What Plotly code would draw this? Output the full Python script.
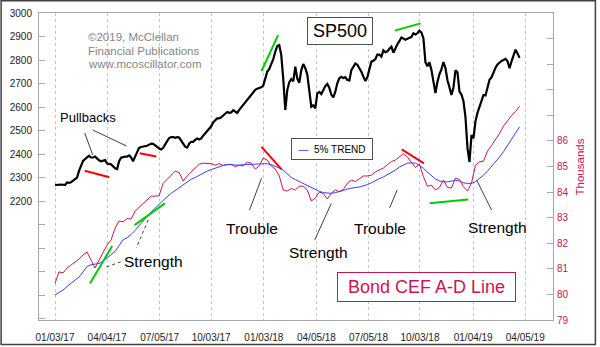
import pandas as pd
import plotly.graph_objects as go

# ---------------- data (readings from the reference) ----------------
start_date = "2017-01-03"

# S&P 500, read twice a week (every 3.5 days)
sp500 = [2268, 2269, 2271, 2270, 2269, 2268, 2279, 2277, 2280, 2288,
         2292, 2300, 2328, 2350, 2371, 2378, 2384, 2393, 2385, 2385,
         2389, 2380, 2373, 2369, 2370, 2374, 2359, 2357, 2356, 2348,
         2339, 2336, 2369, 2384, 2388, 2389, 2389, 2394, 2385, 2369,
         2389, 2409, 2426, 2430, 2431, 2431, 2435, 2440, 2444, 2443,
         2438, 2430, 2423, 2419, 2426, 2438, 2455, 2468, 2472, 2472,
         2469, 2472, 2470, 2457, 2444, 2431, 2427, 2444, 2452, 2452,
         2460, 2466, 2462, 2466, 2478, 2488, 2496, 2505, 2518, 2534,
         2545, 2552, 2552, 2556, 2564, 2573, 2579, 2575, 2577, 2586,
         2580, 2575, 2588, 2599, 2607, 2621, 2632, 2641, 2651, 2663,
         2673, 2678, 2681, 2684, 2691, 2726, 2750, 2762, 2782, 2804,
         2835, 2859, 2863, 2821, 2719, 2587, 2672, 2706, 2719, 2709,
         2772, 2721, 2703, 2757, 2783, 2765, 2738, 2664, 2601, 2607,
         2594, 2658, 2664, 2655, 2672, 2689, 2698, 2681, 2653, 2641,
         2665, 2702, 2722, 2728, 2723, 2727, 2715, 2713, 2757, 2774,
         2785, 2780, 2766, 2750, 2729, 2711, 2726, 2760, 2793, 2797,
         2804, 2823, 2823, 2814, 2841, 2833, 2837, 2848, 2857, 2831,
         2851, 2867, 2880, 2896, 2892, 2886, 2890, 2894, 2898, 2914,
         2909, 2914, 2925, 2917, 2892, 2791, 2773, 2790, 2757, 2708,
         2659, 2707, 2740, 2760, 2791, 2766, 2714, 2684, 2651, 2683,
         2756, 2748, 2665, 2653, 2625, 2557, 2426, 2366, 2480, 2467,
         2540, 2575, 2604, 2626, 2651, 2649, 2678, 2716, 2726, 2750,
         2767, 2781, 2790, 2796, 2800, 2805, 2795, 2765, 2794, 2824,
         2844, 2828, 2809]

# Bond CEF A-D line and its 5% trend, read weekly (thousands)
ad_line = [80.43, 80.88, 80.84, 81.03, 81.15, 81.27, 81.38, 81.54, 81.66, 81.34,
           81.03, 81.34, 81.66, 81.93, 82.13, 82.59, 82.87, 82.84, 82.96, 82.95,
           83.26, 83.41, 83.56, 83.71, 83.84, 83.84, 83.86, 84.34, 84.51, 84.68,
           84.82, 84.76, 84.43, 84.63, 84.78, 84.94, 85.09, 85.13, 85.13, 85.11,
           85.05, 85.11, 85.04, 85.07, 85.09, 84.99, 85.05, 85.02, 85.17, 85.13,
           84.90, 85.02, 85.33, 85.25, 85.02, 84.90, 84.63, 84.08, 84.04, 84.14,
           84.08, 84.23, 84.23, 84.08, 83.65, 83.77, 84.00, 83.95, 83.73, 83.96,
           84.08, 84.02, 84.10, 84.35, 84.47, 84.41, 84.53, 84.63, 84.63, 84.66,
           84.79, 84.85, 84.94, 85.07, 85.19, 85.25, 85.37, 85.50, 85.37, 85.17,
           84.96, 85.09, 84.60, 84.23, 84.27, 84.08, 84.18, 84.47, 84.18, 84.16,
           84.55, 84.49, 84.21, 84.04, 84.35, 85.05, 85.18, 85.21, 85.60, 85.82,
           86.05, 86.29, 86.58, 86.81, 86.99, 87.14, 87.36]

trend_5pct = [79.98, 80.07, 80.17, 80.31, 80.43, 80.54, 80.68, 80.88, 81.09, 81.16,
              81.19, 81.21, 81.30, 81.42, 81.56, 81.68, 81.91, 82.13, 82.22, 82.34,
              82.50, 82.69, 82.91, 83.06, 83.22, 83.38, 83.53, 83.69, 83.82, 83.95,
              84.06, 84.20, 84.31, 84.41, 84.50, 84.57, 84.65, 84.76, 84.82, 84.88,
              84.94, 85.00, 85.04, 85.08, 85.07, 85.05, 85.05, 85.07, 85.07, 85.08,
              85.09, 85.10, 85.11, 85.11, 85.07, 85.02, 84.94, 84.86, 84.70, 84.57,
              84.49, 84.41, 84.33, 84.25, 84.18, 84.11, 84.03, 83.98, 83.96, 83.95,
              83.98, 84.01, 84.06, 84.12, 84.16, 84.18, 84.20, 84.24, 84.29, 84.36,
              84.45, 84.53, 84.59, 84.68, 84.75, 84.86, 84.98, 85.07, 85.13, 85.14,
              85.13, 85.04, 84.93, 84.78, 84.63, 84.51, 84.44, 84.40, 84.40, 84.42,
              84.46, 84.43, 84.36, 84.34, 84.34, 84.41, 84.52, 84.66, 84.82, 85.00,
              85.17, 85.37, 85.58, 85.82, 86.03, 86.30, 86.55]

tick_dates = ["2017-01-03", "2017-04-04", "2017-07-05", "2017-10-03", "2018-01-03",
              "2018-04-05", "2018-07-05", "2018-10-03", "2019-01-04", "2019-04-05"]
tick_text = ["01/03/17", "04/04/17", "07/05/17", "10/03/17", "01/03/18",
             "04/05/18", "07/05/18", "10/03/18", "01/04/19", "04/05/19"]

left_ticks = list(range(1700, 3001, 100))
left_labels = [str(v) if v >= 2200 else "" for v in left_ticks]
right_ticks = list(range(79, 91))
right_labels = [str(v) if v <= 86 else "" for v in right_ticks]

# trend-line marks: (date0, value0, date1, value1, colour)
sp_marks = [("2017-02-24", 2329, "2017-04-08", 2301, "#ff0000"),
            ("2017-05-31", 2403, "2017-06-29", 2389, "#ff0000"),
            ("2017-12-30", 2753, "2018-01-28", 2906, "#00cc00"),
            ("2018-08-20", 2925, "2018-10-04", 2956, "#00cc00")]
ad_marks = [("2017-12-30", 85.77, "2018-02-03", 84.89, "#ff0000"),
            ("2018-09-01", 85.67, "2018-10-10", 85.12, "#ff0000"),
            ("2018-10-20", 83.56, "2018-12-26", 83.71, "#00cc00"),
            ("2017-05-22", 82.71, "2017-07-14", 83.56, "#00cc00"),
            ("2017-03-05", 80.43, "2017-04-13", 81.89, "#00cc00")]
sp_pointers = [("2017-02-24", 2489, "2017-03-10", 2396),
               ("2017-03-10", 2502, "2017-05-08", 2434)]
ad_pointers = [("2017-12-09", 83.30, "2017-12-30", 84.54),
               ("2018-04-02", 82.13, "2018-05-01", 83.56),
               ("2018-08-11", 83.38, "2018-08-24", 84.08),
               ("2019-02-05", 83.30, "2019-01-10", 84.47)]
ad_dotted = [("2017-04-03", 81.08, "2017-04-29", 81.28),
             ("2017-06-15", 82.91, "2017-05-25", 81.81)]
ad_labels = [("Strength", "2017-06-24", 81.30), ("Trouble", "2017-12-13", 82.59),
             ("Strength", "2018-04-09", 81.62), ("Trouble", "2018-07-25", 82.59),
             ("Strength", "2019-02-15", 82.63)]

# ---------------- figure ----------------
FONT = "Liberation Sans, Arial, sans-serif"
CRIMSON = "#cc1450"
sp_dates = pd.date_range(start_date, periods=len(sp500), freq="84h")
ad_dates = pd.date_range(start_date, periods=len(ad_line), freq="7D")

fig = go.Figure()
fig.add_trace(go.Scatter(x=sp_dates, y=sp500, mode="lines", yaxis="y",
                         line=dict(color="black", width=2.2), showlegend=False))
fig.add_trace(go.Scatter(x=ad_dates, y=ad_line, mode="lines", yaxis="y2",
                         line=dict(color=CRIMSON, width=1), showlegend=False))
fig.add_trace(go.Scatter(x=ad_dates, y=trend_5pct, mode="lines", yaxis="y2",
                         line=dict(color="#3c3cff", width=1), showlegend=False))

shapes = []
for d0, v0, d1, v1, c in sp_marks:
    shapes.append(dict(type="line", xref="x", yref="y", x0=d0, y0=v0, x1=d1, y1=v1,
                       line=dict(color=c, width=2), layer="above"))
for d0, v0, d1, v1, c in ad_marks:
    shapes.append(dict(type="line", xref="x", yref="y2", x0=d0, y0=v0, x1=d1, y1=v1,
                       line=dict(color=c, width=2), layer="above"))
for d0, v0, d1, v1 in sp_pointers:
    shapes.append(dict(type="line", xref="x", yref="y", x0=d0, y0=v0, x1=d1, y1=v1,
                       line=dict(color="#404040", width=1), layer="above"))
for d0, v0, d1, v1 in ad_pointers:
    shapes.append(dict(type="line", xref="x", yref="y2", x0=d0, y0=v0, x1=d1, y1=v1,
                       line=dict(color="#404040", width=1), layer="above"))
for d0, v0, d1, v1 in ad_dotted:
    shapes.append(dict(type="line", xref="x", yref="y2", x0=d0, y0=v0, x1=d1, y1=v1,
                       line=dict(color="#404040", width=1, dash="dot"), layer="above"))
# outer frame of the picture
shapes.append(dict(type="rect", xref="paper", yref="paper", x0=-0.0737, x1=1.0825,
                   y0=-0.0795, y1=1.0395, line=dict(color="#404040", width=1.5)))

annotations = []
copy_lines = [("©2019, McClellan", 2900), ("Financial Publications", 2838),
              ("www.mcoscillator.com", 2783)]
for txt, v in copy_lines:
    annotations.append(dict(text=txt, x="2017-02-27", y=v, xref="x", yref="y",
                            xanchor="left", yanchor="middle", showarrow=False,
                            font=dict(family=FONT, size=11.5, color="#858585")))
annotations.append(dict(text="Pullbacks", x="2017-03-02", y=2557, xref="x", yref="y",
                        showarrow=False, font=dict(family=FONT, size=13, color="black")))
for txt, d, v in ad_labels:
    annotations.append(dict(text=txt, x=d, y=v, xref="x", yref="y2", showarrow=False,
                            font=dict(family=FONT, size=15.5, color="black")))
annotations.append(dict(text="SP500", x="2018-05-16", y=2925, xref="x", yref="y",
                        showarrow=False, font=dict(family=FONT, size=18, color="black"),
                        bgcolor="white", bordercolor="#505050", borderwidth=1,
                        width=60, height=22, borderpad=2))
annotations.append(dict(text="<span style='color:#3c3cff'>—</span>  5% TREND",
                        x="2018-05-03", y=85.70, xref="x", yref="y2", showarrow=False,
                        font=dict(family=FONT, size=10, color="black"),
                        bgcolor="white", bordercolor="#505050", borderwidth=1,
                        width=76, height=16, borderpad=2))
annotations.append(dict(text="Bond CEF A-D Line", x="2018-10-14", y=80.30, xref="x",
                        yref="y2", showarrow=False,
                        font=dict(family=FONT, size=18, color=CRIMSON),
                        bgcolor="white", bordercolor=CRIMSON, borderwidth=1,
                        width=173, height=24, borderpad=2))
annotations.append(dict(text="Thousands", x=1.068, y=0.5, xref="paper", yref="paper",
                        textangle=-90, showarrow=False,
                        font=dict(family=FONT, size=11.5, color=CRIMSON)))

fig.update_layout(
    width=600, height=347,
    margin=dict(l=39, r=47, t=13, b=27, autoexpand=False),
    paper_bgcolor="white", plot_bgcolor="white",
    font=dict(family=FONT, size=10, color="#222222"),
    showlegend=False,
    xaxis=dict(type="date", range=["2016-12-06", "2019-05-23 12:00"],
               tickvals=tick_dates, ticktext=tick_text, showgrid=True,
               gridcolor="#c4c4c4", griddash="dot", gridwidth=1,
               showline=True, linecolor="#a8a8a8", linewidth=1, mirror=True,
               ticks="", zeroline=False, tickfont=dict(size=10, color="#222222"),
               ticklabelstandoff=8, automargin=False),
    yaxis=dict(range=[1693.6, 3000], tickvals=left_ticks, ticktext=left_labels,
               showgrid=False, zeroline=False, showline=True, linecolor="#a8a8a8",
               ticks="inside", ticklen=6, tickcolor="#a8a8a8",
               tickfont=dict(size=10, color="#222222"), ticklabelstandoff=4,
               automargin=False),
    yaxis2=dict(range=[79, 91], overlaying="y", side="right", tickvals=right_ticks,
                ticktext=right_labels, showgrid=False, zeroline=False, showline=True,
                linecolor="#a8a8a8", ticks="inside", ticklen=6, tickcolor="#a8a8a8",
                tickfont=dict(size=10, color=CRIMSON), ticklabelstandoff=1,
                automargin=False),
    shapes=shapes,
    annotations=annotations,
)

fig.write_html("out.html")
